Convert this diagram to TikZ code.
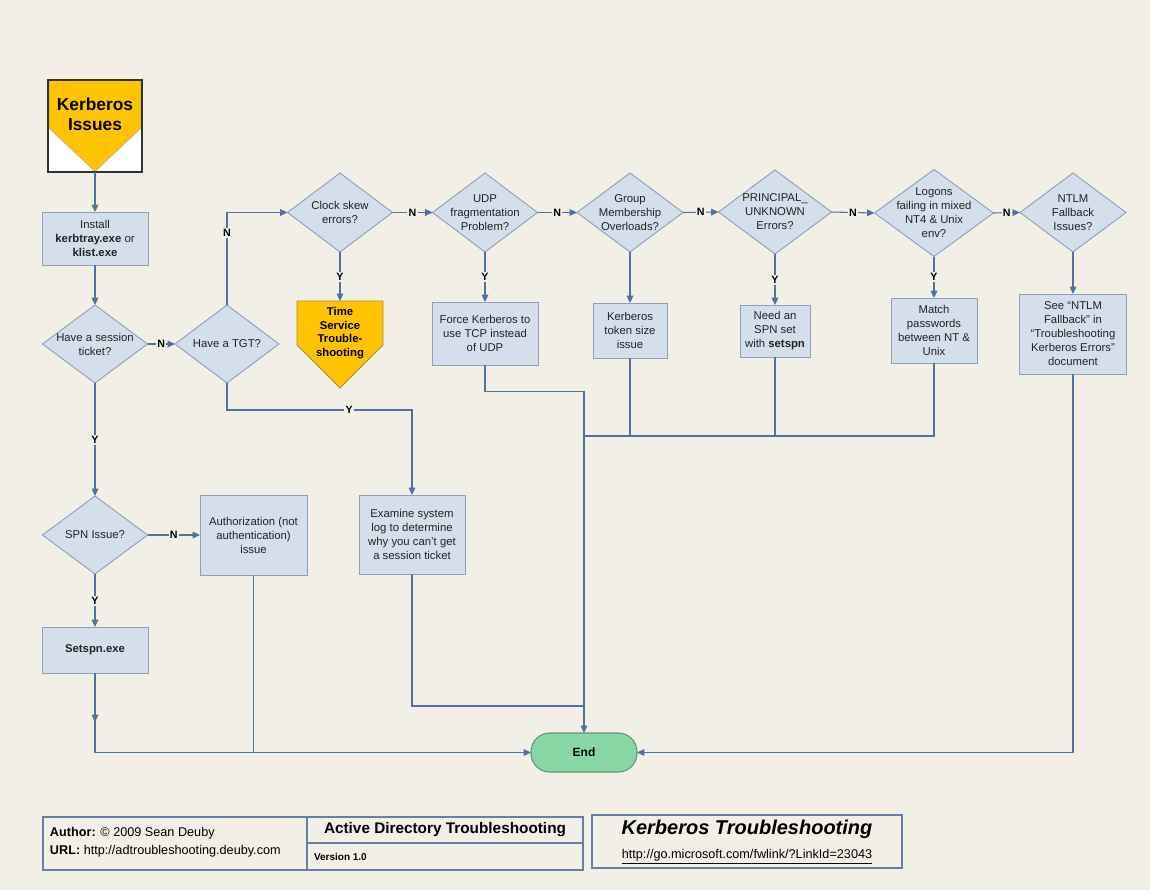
\documentclass[tikz,border=0pt]{standalone}
\usepackage{fontspec}
\setmainfont{Liberation Sans}
\usetikzlibrary{shapes.geometric,arrows.meta}
\definecolor{bg}{RGB}{242,239,231}
\definecolor{txt}{RGB}{34,34,34}
\definecolor{boxfill}{RGB}{213,223,236}
\definecolor{boxline}{RGB}{140,160,186}
\definecolor{conncol}{RGB}{80,114,158}
\definecolor{kyellow}{RGB}{255,196,0}
\definecolor{tsline}{RGB}{160,140,70}
\definecolor{endfill}{RGB}{136,214,164}
\definecolor{endline}{RGB}{95,150,120}
\definecolor{footline}{RGB}{100,128,165}
\begin{document}
\begin{tikzpicture}[x=0.75pt,y=-0.75pt,
  every node/.style={font=\fontsize{8.5}{10.5}\selectfont, text=txt, inner sep=0pt, outer sep=0pt},
  box/.style={draw=boxline, fill=boxfill, line width=0.7pt, align=center},
  dia/.style={diamond, draw=boxline, fill=boxfill, line width=0.7pt},
  conn/.style={draw=conncol, line width=0.8pt},
  arr/.style={conn, -{Triangle[length=5.5pt,width=5pt]}},
  lab/.style={font=\fontsize{8}{9}\selectfont\bfseries, fill=bg, inner sep=1pt, text=black},
  foot/.style={draw=footline, line width=1.2pt},
]
% page
\fill[bg] (0,0) rectangle (1150,890);
\useasboundingbox (0,0) rectangle (1150,890);

% start marker
\node[draw=black!80, fill=white, line width=1pt, minimum width=70.5pt, minimum height=69pt] (kiss) at (95,126) {};
\filldraw[fill=kyellow, draw=black!35, line width=0.4pt] (49,80.5) -- (141,80.5) -- (141,128) -- (95,171.5) -- (49,128) -- cycle;
\draw[black!80, line width=1pt] (kiss.north west) rectangle (kiss.south east);
\node[font=\fontsize{13}{15}\selectfont\bfseries, align=center, text=black] (ktitle) at (95,114) {Kerberos\\Issues};

% left column
\node[box, minimum width=79.5pt, minimum height=39.75pt] (install) at (95,238.5) {Install\\\textbf{kerbtray.exe} or\\\textbf{klist.exe}};
\node[dia, minimum width=78.75pt, minimum height=58.5pt, label={[align=center]center:{Have a session\\ticket?}}] (sess) at (95,344) {};
\node[dia, minimum width=78pt, minimum height=58.5pt, label={[align=center]center:{Have a TGT?}}] (tgt) at (227,344) {};
\node[dia, minimum width=78.75pt, minimum height=58.5pt, label={[align=center]center:{SPN Issue?}}] (spn) at (95,535) {};
\node[box, minimum width=80.25pt, minimum height=60pt] (auth) at (253.5,535) {Authorization (not\\authentication)\\issue};
\node[box, minimum width=79.5pt, minimum height=34.5pt] (setspn) at (95,650) {\textbf{Setspn.exe}};
\node[box, minimum width=79.5pt, minimum height=59.25pt] (exam) at (412,534.5) {Examine system\\log to determine\\why you can’t get\\a session ticket};

% decision row
\node[dia, minimum width=78.75pt, minimum height=59.25pt, label={[align=center]center:{Clock skew\\errors?}}] (clock) at (340,212.5) {};
\node[dia, minimum width=78.75pt, minimum height=59.25pt, label={[align=center]center:{UDP\\fragmentation\\Problem?}}] (udp) at (485,212.5) {};
\node[dia, minimum width=79.5pt, minimum height=59.25pt, label={[align=center]center:{Group\\Membership\\Overloads?}}] (group) at (630,212.5) {};
\node[dia, minimum width=84.75pt, minimum height=63pt, label={[align=center]center:{PRINCIPAL\_\\UNKNOWN\\Errors?}}] (princ) at (775,212) {};
\node[dia, minimum width=89.25pt, minimum height=65.25pt, label={[align=center]center:{Logons\\failing in mixed\\NT4 \& Unix\\env?}}] (logons) at (934,213) {};
\node[dia, minimum width=79.5pt, minimum height=59.25pt, label={[align=center]center:{NTLM\\Fallback\\Issues?}}] (ntlm) at (1073,212.5) {};

% outcomes
\filldraw[fill=kyellow, draw=tsline, line width=0.6pt] (297,301) -- (383,301) -- (383,345) -- (340,388) -- (297,345) -- cycle;
\node[align=center, font=\fontsize{8.5}{10.3}\selectfont\bfseries, text=black, minimum height=48pt] (ts) at (340,333) {Time\\Service\\Trouble-\\shooting};
\node[box, minimum width=79.5pt, minimum height=47.25pt] (force) at (485,333.5) {Force Kerberos to\\use TCP instead\\of UDP};
\node[box, minimum width=55.5pt, minimum height=41.25pt] (token) at (630,330.5) {Kerberos\\token size\\issue};
\node[box, minimum width=52.5pt, minimum height=39pt] (spnset) at (775,331) {Need an\\SPN set\\with \textbf{setspn}};
\node[box, minimum width=64.5pt, minimum height=48.75pt] (match) at (934,330.5) {Match\\passwords\\between NT \&\\Unix};
\node[box, minimum width=80.25pt, minimum height=60pt] (see) at (1073,334) {See “NTLM\\Fallback” in\\“Troubleshooting\\Kerberos Errors”\\document};

% terminal
\node[fill=endfill, draw=endline, line width=0.8pt, rounded corners=14pt, minimum width=79.5pt, minimum height=29.25pt, font=\fontsize{9}{10}\selectfont\bfseries, text=black] (endn) at (584,752.5) {End};
\coordinate (jn) at (584,436);
\coordinate (jx) at (584,706);

% connectors
\draw[arr] (kiss.south) -- (install.north);
\draw[arr] (install.south) -- (sess.north);
\draw[arr] (sess.east) -- node[lab]{N} (tgt.west);
\draw[arr] (tgt.north) |- node[lab,pos=0.39]{N} (clock.west);
\draw[arr] (clock.south) -- node[lab]{Y} (ts.north);
\draw[arr] (clock.east) -- node[lab]{N} (udp.west);
\draw[arr] (udp.south) -- node[lab]{Y} (force.north);
\draw[arr] (udp.east) -- node[lab]{N} (group.west);
\draw[arr] (group.south) -- (token.north);
\draw[arr] (group.east) -- node[lab]{N} (princ.west);
\draw[arr] (princ.south) -- node[lab]{Y} (spnset.north);
\draw[arr] (princ.east) -- node[lab]{N} (logons.west);
\draw[arr] (logons.south) -- node[lab]{Y} (match.north);
\draw[arr] (logons.east) -- node[lab]{N} (ntlm.west);
\draw[arr] (ntlm.south) -- (see.north);
\draw[arr] (sess.south) -- node[lab]{Y} (spn.north);
\draw[arr] (spn.east) -- node[lab]{N} (auth.west);
\draw[arr] (spn.south) -- node[lab]{Y} (setspn.north);
\draw[arr] (tgt.south) -- ++(0,27) -| node[lab,pos=0.33]{Y} (exam.north);

\draw[arr] (force.south) -- ++(0,26.5) -| (endn.north);
\draw[conn] (match.south) |- (jn);
\draw[conn] (token.south) -- (token.south |- jn);
\draw[conn] (spnset.south) -- (spnset.south |- jn);
\draw[conn] (exam.south) |- (jx);
\draw[arr] (setspn.south) |- (endn.west);
\draw[arr] (setspn.south) -- ++(0,49);
\draw[conn] (auth.south) -- (auth.south |- endn.west);
\draw[arr] (see.south) |- (endn.east);

% title block
\node[foot, minimum width=405pt, minimum height=39.75pt] (footer) at (313,843.5) {};
\draw[foot] (307,817) -- (307,870);
\draw[foot] (307,843) -- (583,843);
\node[anchor=west, font=\fontsize{9.5}{11}\selectfont, text=black] (author) at (50,833) {\textbf{Author:} © 2009 Sean Deuby};
\node[anchor=west, font=\fontsize{9.5}{11}\selectfont, text=black] (url) at (50,851) {\textbf{URL:} http://adtroubleshooting.deuby.com};
\node[font=\fontsize{11.5}{13}\selectfont\bfseries, text=black] (adt) at (445,830) {Active Directory Troubleshooting};
\node[anchor=west, font=\fontsize{7.5}{9}\selectfont\bfseries, text=black] (ver) at (314,857) {Version 1.0};
\node[foot, minimum width=232.5pt, minimum height=39.75pt] (kt) at (747,841.5) {};
\node[font=\fontsize{15}{17}\selectfont\bfseries\itshape, text=black] (ktt) at (747,829) {Kerberos Troubleshooting};
\node[font=\fontsize{9.5}{11}\selectfont, text=black] (kurl) at (747,857) {\underline{http://go.microsoft.com/fwlink/?LinkId=23043}};
\end{tikzpicture}
\end{document}
